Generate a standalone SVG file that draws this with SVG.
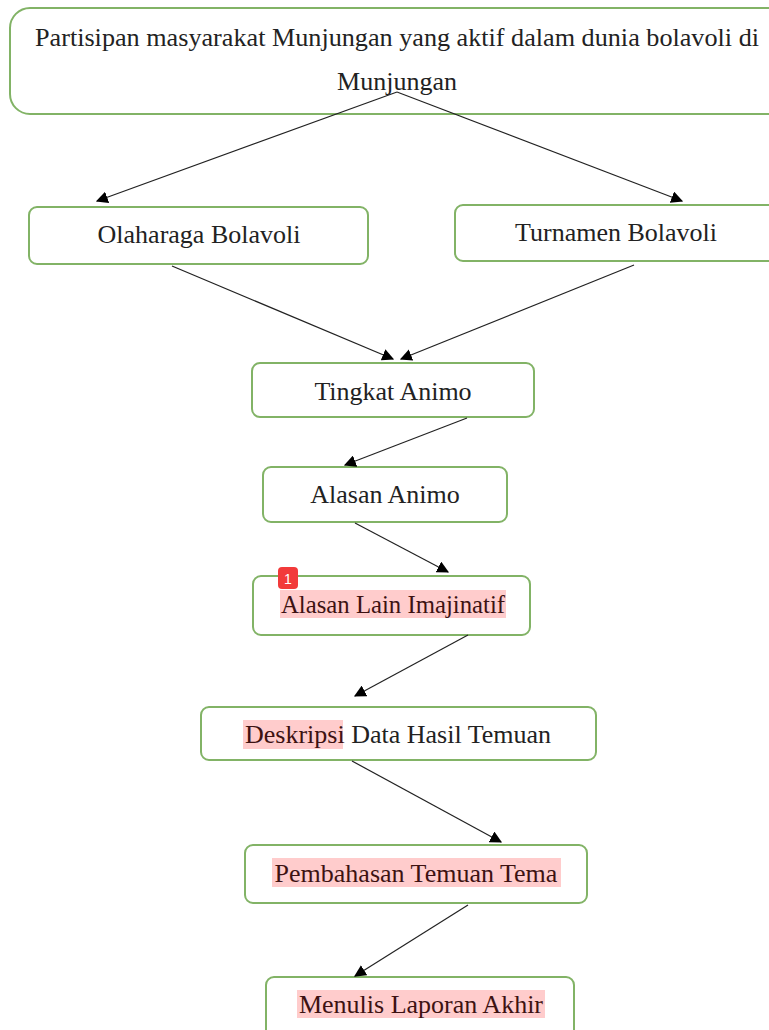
<svg xmlns="http://www.w3.org/2000/svg" width="769" height="1030" viewBox="0 0 769 1030">
  <defs>
    <marker id="arrow" viewBox="0 0 10 10" refX="9" refY="5" markerWidth="12" markerHeight="12" markerUnits="userSpaceOnUse" orient="auto">
      <path d="M0,0 L10,5 L0,10 z" fill="#000"/>
    </marker>
    <style>
      .box { fill: #fff; stroke: #82b366; stroke-width: 2; }
      .lbl { font-family: "Liberation Serif", "Times New Roman", serif; font-size: 26px; fill: #222; text-anchor: middle; }
      .hl { fill: #ffcccc; }
      .mark { fill: #3d1212; }
      .edge { stroke: #222; stroke-width: 1.2; fill: none; marker-end: url(#arrow); }
    </style>
  </defs>

  <!-- nodes -->
  <g id="node-partisipan">
    <rect class="box" x="10" y="8" width="800" height="106" rx="20"/>
    <text class="lbl" x="397" y="46" textLength="724" lengthAdjust="spacingAndGlyphs">Partisipan masyarakat Munjungan yang aktif dalam dunia bolavoli di</text>
    <text class="lbl" x="397" y="90">Munjungan</text>
  </g>

  <g id="node-olahraga">
    <rect class="box" x="29" y="207" width="339" height="57" rx="8"/>
    <text class="lbl" x="199" y="243">Olaharaga Bolavoli</text>
  </g>

  <g id="node-turnamen">
    <rect class="box" x="455" y="205" width="330" height="56" rx="8"/>
    <text class="lbl" x="616" y="241">Turnamen Bolavoli</text>
  </g>

  <g id="node-tingkat">
    <rect class="box" x="252" y="363" width="282" height="54" rx="8"/>
    <text class="lbl" x="393" y="400">Tingkat Animo</text>
  </g>

  <g id="node-alasan">
    <rect class="box" x="263" y="467" width="244" height="55" rx="8"/>
    <text class="lbl" x="385" y="503">Alasan Animo</text>
  </g>

  <g id="node-alasan-lain">
    <rect class="box" x="253" y="576" width="277" height="59" rx="8"/>
    <rect class="hl" x="280" y="590" width="226" height="28"/>
    <text class="lbl mark" x="393" y="613" textLength="224" lengthAdjust="spacingAndGlyphs">Alasan Lain Imajinatif</text>
    <rect x="278" y="567" width="20" height="22" rx="4" fill="#f23a3a"/>
    <text x="288" y="584" font-family="Liberation Sans, Arial, sans-serif" font-size="14" fill="#fff" text-anchor="middle">1</text>
  </g>

  <g id="node-deskripsi">
    <rect class="box" x="201" y="707" width="395" height="53" rx="8"/>
    <rect class="hl" x="243" y="720" width="100" height="29"/>
    <text class="lbl" x="398" y="743"><tspan class="mark">Deskripsi</tspan> Data Hasil Temuan</text>
  </g>

  <g id="node-pembahasan">
    <rect class="box" x="245" y="845" width="342" height="58" rx="8"/>
    <rect class="hl" x="272" y="858" width="289" height="29"/>
    <text class="lbl mark" x="416" y="882">Pembahasan Temuan Tema</text>
  </g>

  <g id="node-menulis">
    <rect class="box" x="266" y="977" width="308" height="70" rx="8"/>
    <rect class="hl" x="297" y="990" width="248" height="28"/>
    <text class="lbl mark" x="421" y="1013">Menulis Laporan Akhir</text>
  </g>

  <!-- connectors -->
  <g id="edges">
    <line class="edge" x1="397" y1="92" x2="97" y2="201"/>
    <line class="edge" x1="397" y1="92" x2="682" y2="201"/>
    <line class="edge" x1="172" y1="266" x2="393" y2="359"/>
    <line class="edge" x1="634" y1="265" x2="401" y2="359"/>
    <line class="edge" x1="467" y1="418" x2="345" y2="465"/>
    <line class="edge" x1="355" y1="523" x2="448" y2="572"/>
    <line class="edge" x1="468" y1="635" x2="355" y2="696"/>
    <line class="edge" x1="352" y1="761" x2="501" y2="842"/>
    <line class="edge" x1="468" y1="905" x2="355" y2="976"/>
  </g>
</svg>
